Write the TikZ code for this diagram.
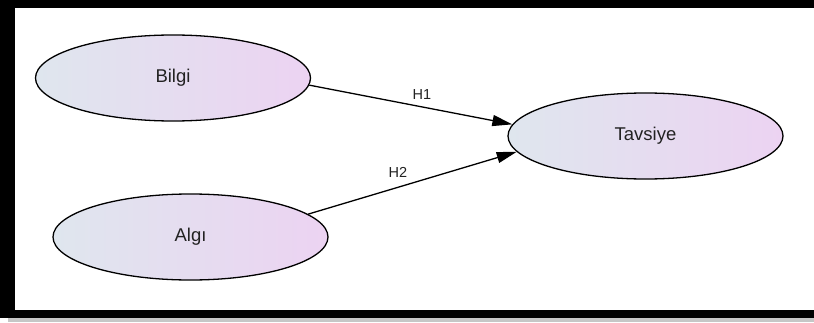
\documentclass[tikz,border=0pt]{standalone}
\usepackage{fontspec}
\setmainfont{Liberation Sans}
\usetikzlibrary{shapes.geometric,arrows.meta}
\definecolor{gleft}{HTML}{DFE6EE}
\definecolor{gright}{HTML}{ECD3F2}
\definecolor{txt}{HTML}{222222}
\tikzset{
  construct/.style={ellipse, draw=black, line width=1.3pt, minimum width=275pt, minimum height=86pt,
    inner sep=0pt, left color=gleft, right color=gright, text=txt, font=\fontsize{18.5}{20}\selectfont},
  path/.style={draw=black, line width=1.3pt, -{Triangle[length=20pt,width=11pt]}},
  hlabel/.style={font=\fontsize{14.5}{16}\selectfont, text=txt, inner sep=0pt}
}
\begin{document}
\begin{tikzpicture}[x=1pt,y=1pt]
\useasboundingbox (0,0) rectangle (814,322);
% frame and shadow
\fill[gray!45] (8,0) rectangle (814,4);
\fill[black] (0,4) rectangle (15,322);
\fill[black] (0,314) rectangle (814,322);
\fill[black] (0,4) rectangle (814,12);
% constructs
\node[construct] (bilgi) at (173,244) {\raisebox{-2pt}{Bilgi}};
\node[construct] (tavsiye) at (645.5,186) {\raisebox{-2pt}{Tavsiye}};
\node[construct] (algi) at (190.5,85) {\raisebox{-2pt}{Algı}};
% paths
\draw[path] (bilgi.-3.8) -- (tavsiye.175.3);
\draw[path] (algi.11.6) -- (tavsiye.187.2);
\node[hlabel] (h1) at (422,227) {H1};
\node[hlabel] (h2) at (398,150) {H2};
\end{tikzpicture}
\end{document}
